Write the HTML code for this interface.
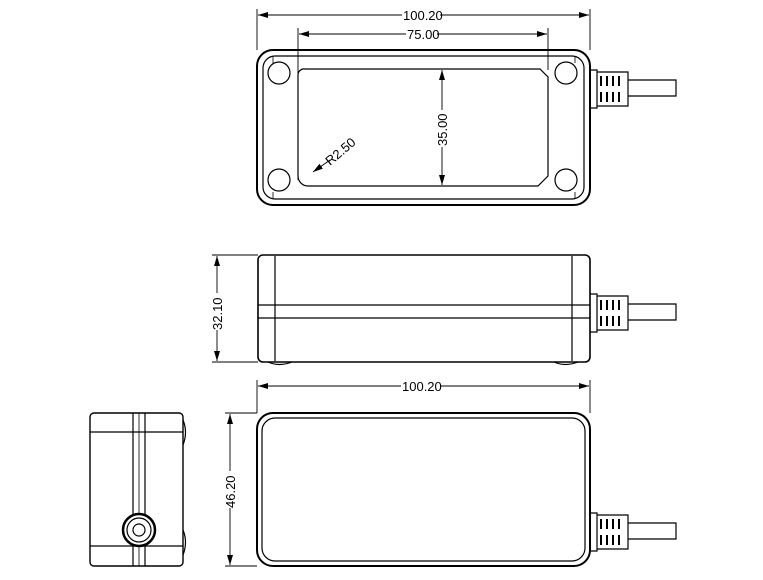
<!DOCTYPE html>
<html><head><style>body{margin:0;background:#fff}svg{display:block}text{font-family:"Liberation Sans",sans-serif;font-size:13px;fill:#000;stroke:none}</style></head><body>
<svg width="763" height="580" viewBox="0 0 763 580" fill="none" stroke="#000" stroke-width="1.2">
<defs><marker id="a" viewBox="0 0 10 6" refX="10" refY="3" markerWidth="10" markerHeight="6" orient="auto-start-reverse" markerUnits="userSpaceOnUse"><path d="M0,0L10,3L0,6z" fill="#000" stroke="none"/></marker></defs>
<!-- TOP VIEW -->
<g stroke-width="0.9"><line x1="257" y1="9" x2="257" y2="50"/><line x1="590" y1="9" x2="590" y2="50"/>
<line x1="258" y1="15" x2="402" y2="15" marker-start="url(#a)"/><line x1="440" y1="15" x2="589" y2="15" marker-end="url(#a)"/>
<line x1="298" y1="28" x2="298" y2="180"/><line x1="548" y1="28" x2="548" y2="70"/>
<line x1="299" y1="34" x2="406" y2="34" marker-start="url(#a)"/><line x1="437" y1="34" x2="547" y2="34" marker-end="url(#a)"/>
<line x1="442" y1="70" x2="442" y2="110" marker-start="url(#a)"/><line x1="442" y1="147" x2="442" y2="185" marker-end="url(#a)"/>
<line x1="330" y1="160" x2="313" y2="172" marker-end="url(#a)"/></g>
<text x="403" y="20">100.20</text><text x="407" y="39">75.00</text>
<text transform="translate(447,146) rotate(-90)">35.00</text>
<text transform="translate(330,166) rotate(-40)" font-size="12">R2.50</text>
<rect x="257" y="50" width="333" height="155" rx="16" stroke-width="2"/>
<rect x="263" y="56" width="321" height="143" rx="12"/>
<path d="M273,57 v6 M575,57 v6 M273,198 v-6 M575,198 v-6" stroke-width="0.8"/>
<circle cx="279" cy="73" r="11"/><circle cx="566" cy="73" r="11"/><circle cx="279" cy="180" r="11"/><circle cx="566" cy="180" r="11"/>
<path d="M305,69 H540 L548,77 V176 L538,186 H308 A10,10 0 0 1 298,176 V75 A6,6 0 0 1 305,69 Z"/>
<g id="con"><path d="M590,70 h7 v38 h-7 M597,72 h31 v34 h-31"/><path d="M601,76 v10 M607,76 v10 M613,76 v10 M619,76 v10 M601,92 v10 M607,92 v10 M613,92 v10 M619,92 v10" stroke-width="2"/><path d="M628,80 H676 V96 H628"/></g>
<!-- SIDE VIEW -->
<g stroke-width="0.9"><line x1="212" y1="255" x2="258" y2="255"/><line x1="212" y1="362" x2="258" y2="362"/>
<line x1="217" y1="256" x2="217" y2="293" marker-start="url(#a)"/><line x1="217" y1="330" x2="217" y2="361" marker-end="url(#a)"/></g>
<text transform="translate(222,330) rotate(-90)">32.10</text>
<rect x="258" y="255" width="332" height="107" rx="5" stroke-width="1.6"/>
<line x1="275" y1="256" x2="275" y2="361"/><line x1="572" y1="256" x2="572" y2="361"/>
<line x1="258" y1="305" x2="590" y2="305"/><line x1="258" y1="318" x2="590" y2="318"/>
<path d="M268,362 q11,5 24,0 M554,362 q11,5 24,0"/>
<use href="#con" transform="translate(0,224)"/>
<!-- BOTTOM VIEW -->
<g stroke-width="0.9"><line x1="257" y1="380" x2="257" y2="413"/><line x1="590" y1="380" x2="590" y2="413"/>
<line x1="258" y1="386" x2="401" y2="386" marker-start="url(#a)"/><line x1="440" y1="386" x2="589" y2="386" marker-end="url(#a)"/>
<line x1="225" y1="413" x2="257" y2="413"/><line x1="225" y1="566" x2="257" y2="566"/>
<line x1="230" y1="414" x2="230" y2="471" marker-start="url(#a)"/><line x1="230" y1="508" x2="230" y2="565" marker-end="url(#a)"/></g>
<text x="402" y="391">100.20</text>
<text transform="translate(235,508) rotate(-90)">46.20</text>
<rect x="257" y="413" width="333" height="153" rx="16" stroke-width="2"/>
<rect x="262" y="418" width="323" height="143" rx="13"/>
<use href="#con" transform="translate(0,443)"/>
<!-- END VIEW -->
<rect x="90" y="413" width="93" height="153" rx="4" stroke-width="1.4"/>
<line x1="90" y1="432" x2="183" y2="432"/><line x1="90" y1="546" x2="183" y2="546"/>
<line x1="133" y1="413" x2="133" y2="566"/><line x1="145" y1="413" x2="145" y2="566"/><line x1="139" y1="413" x2="139" y2="566" stroke-width="0.8"/>
<path d="M183,420 q5,12 0,25 M183,530 q5,12 0,25"/>
<circle cx="139" cy="530" r="16" fill="#fff" stroke-width="2.5"/><circle cx="139" cy="530" r="12"/><circle cx="139" cy="530" r="6"/>
</svg></body></html>
